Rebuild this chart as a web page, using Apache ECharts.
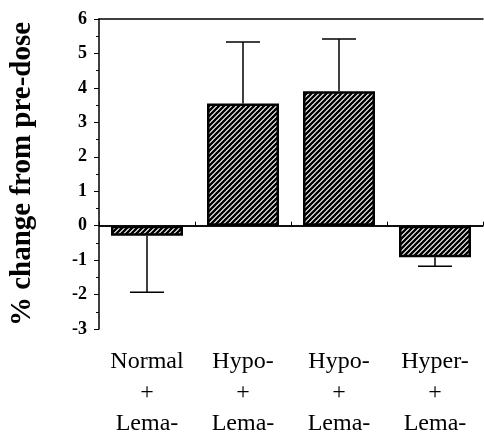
<!DOCTYPE html>
<html>
<head>
<meta charset="utf-8">
<script src="https://cdn.jsdelivr.net/npm/echarts@6/dist/echarts.min.js"></script>
<style>
  html, body { margin: 0; padding: 0; background: #fff; }
  #chart { width: 484px; height: 439px; }
</style>
</head>
<body>
<div id="chart"></div>
<script>
// values
const groups = ["Normal\n+\nLema-", "Hypo-\n+\nLema-", "Hypo-\n+\nLema-", "Hyper-\n+\nLema-"];
const meanChange = [-0.29, 3.55, 3.9, -0.92];
const errSize = [1.64, 1.78, 1.52, 0.26];
const yTicks = [-3, -2, -1, 0, 1, 2, 3, 4, 5, 6];

const serif = "'Liberation Serif', 'DejaVu Serif', serif";

// diagonal hatch (///) used as bar fill
function hatch() {
  const s = 5;
  const c = document.createElement("canvas");
  c.width = s;
  c.height = s;
  const g = c.getContext("2d");
  g.fillStyle = "#fff";
  g.fillRect(0, 0, s, s);
  g.strokeStyle = "#000";
  g.lineWidth = 2.4;
  g.beginPath();
  g.moveTo(-1, s + 1); g.lineTo(s + 1, -1);
  g.moveTo(-1, 1); g.lineTo(1, -1);
  g.moveTo(s - 1, s + 1); g.lineTo(s + 1, s - 1);
  g.stroke();
  return c;
}

const chart = echarts.init(document.getElementById("chart"));

const errData = meanChange.map((v, i) => [i, v, v >= 0 ? v + errSize[i] : v - errSize[i]]);

chart.setOption({
  backgroundColor: "#fff",
  animation: false,
  grid: { left: 97, right: 1, top: 19, bottom: 106 },
  xAxis: [
    {
      type: "category",
      data: groups,
      axisLine: { lineStyle: { color: "#000", width: 1.5 } },
      axisTick: { show: true, inside: true, length: 4, lineStyle: { color: "#000" } },
      axisLabel: {
        color: "#000", fontFamily: serif, fontSize: 24, lineHeight: 31, margin: 17
      }
    },
    {
      type: "category",
      position: "top",
      data: groups,
      axisLine: { lineStyle: { color: "#000", width: 1.5 } },
      axisTick: { show: false },
      axisLabel: { show: false }
    }
  ],
  yAxis: {
    type: "value",
    min: yTicks[0],
    max: yTicks[yTicks.length - 1],
    interval: 1,
    name: "% change from pre-dose",
    nameLocation: "middle",
    nameGap: 62,
    nameTextStyle: { color: "#000", fontFamily: serif, fontSize: 29, fontWeight: "bold" },
    axisLine: { show: true, lineStyle: { color: "#000", width: 1.5 } },
    axisTick: { show: true, length: 5, lineStyle: { color: "#000" } },
    minorTick: { show: true, splitNumber: 2, length: 3, lineStyle: { color: "#000" } },
    splitLine: { show: false },
    axisLabel: {
      color: "#000", fontFamily: serif, fontSize: 18, fontWeight: "bold", margin: 12
    }
  },
  series: [
    {
      type: "bar",
      data: meanChange,
      barWidth: 72,
      itemStyle: {
        color: { image: hatch(), repeat: "repeat" },
        borderColor: "#000",
        borderWidth: 2.5
      },
      markLine: {
        silent: true,
        symbol: "none",
        label: { show: false },
        lineStyle: { color: "#000", width: 1.5, type: "solid" },
        data: [{ yAxis: 0 }]
      }
    },
    {
      type: "custom",
      data: errData,
      renderItem: function (params, api) {
        const i = api.value(0);
        const p0 = api.coord([i, api.value(1)]);
        const p1 = api.coord([i, api.value(2)]);
        const half = 17;
        const st = { stroke: "#000", lineWidth: 1.5 };
        return {
          type: "group",
          children: [
            { type: "line", shape: { x1: p0[0], y1: p0[1], x2: p1[0], y2: p1[1] }, style: st },
            { type: "line", shape: { x1: p1[0] - half, y1: p1[1], x2: p1[0] + half, y2: p1[1] }, style: st }
          ]
        };
      },
      z: 3
    }
  ]
});
</script>
</body>
</html>
